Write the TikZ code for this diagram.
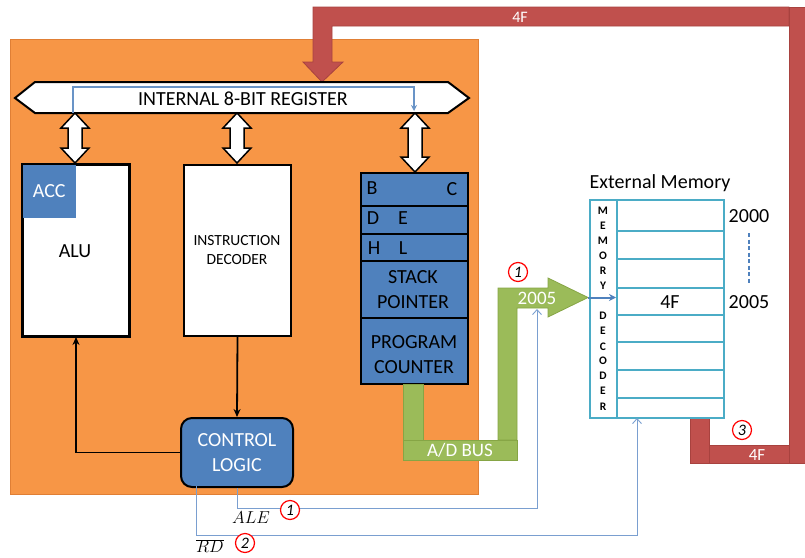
\documentclass[tikz,border=0pt]{standalone}
\usepackage{fontspec}
\setmainfont{Carlito}
\usetikzlibrary{arrows.meta}
\definecolor{orangeF}{HTML}{F79646}
\definecolor{orangeD}{HTML}{E07F35}
\definecolor{blueF}{HTML}{4F81BD}
\definecolor{blueL}{HTML}{7A9FD0}
\definecolor{greenF}{HTML}{9BBB59}
\definecolor{greenD}{HTML}{86A545}
\definecolor{redF}{HTML}{C0504D}
\definecolor{redD}{HTML}{A8423F}
\definecolor{memC}{HTML}{4BACC6}
\begin{document}
\begin{tikzpicture}[x=1pt,y=-1pt,
  font=\fontsize{20}{24}\selectfont,
  whitebox/.style={draw=black, line width=2pt, fill=white, inner sep=0pt, anchor=north west},
  regbox/.style={draw=black, line width=2pt, fill=blueF, inner sep=0pt, anchor=north west, minimum width=107pt},
  greenpart/.style={fill=greenF, draw=greenD, line width=0.8pt},
  redpart/.style={fill=redF, draw=redD, line width=0.8pt},
  memline/.style={draw=memC, line width=1.5pt},
  signal/.style={draw=blueL, line width=0.9pt, -{Straight Barb[length=5pt,width=9pt]}},
  numcirc/.style={circle, draw=red, line width=1.2pt, fill=white, inner sep=0pt, minimum size=19pt, font=\itshape\fontsize{16}{16}\selectfont},
  declet/.style={font=\bfseries\fontsize{11.5}{11.5}\selectfont},
  wlabel/.style={text=white}
]
\useasboundingbox (0,0) rectangle (805,557);

% orange CPU area
\fill[orangeF, draw=orangeD, line width=1pt] (10,39) rectangle (478,494);

% red data path (memory -> register)
\draw[redpart] (313,7) -- (789,7) -- (789,26) -- (332,26) -- (332,62) -- (343,62) -- (322,82) -- (303,62) -- (313,62) -- cycle;
\draw[redpart] (789,7) rectangle (806,463);
\draw[redpart] (709,445) rectangle (789,463);
\draw[redpart] (690,417) rectangle (709,463);
\node[wlabel, font=\fontsize{16}{16}\selectfont] (fourFtop) at (520,17) {4F};
\node[wlabel, font=\fontsize{17}{17}\selectfont] (fourFbot) at (757,455) {4F};

% internal register bus
\draw[fill=white, line width=2pt, line join=miter] (15,98) -- (35,82) -- (448,82) -- (469,98) -- (448,113) -- (35,113) -- cycle;
\node (reg) at (243,99) {INTERNAL 8-BIT REGISTER};
\draw[draw=blueF!85!white, line width=1.5pt, -{Stealth[length=6pt,width=6pt]}] (73,113) -- (73,87) -- (414,87) -- (414,111);

% double arrows
\foreach \x/\a/\b in {75/113/163, 237/113/163, 415/113/172} {
  \draw[fill=white, line width=1.5pt, line join=miter]
    (\x,\a) -- (\x+14,\a+15) -- (\x+7,\a+15) -- (\x+7,\b-15) -- (\x+14,\b-15) -- (\x,\b)
    -- (\x-14,\b-15) -- (\x-7,\b-15) -- (\x-7,\a+15) -- (\x-14,\a+15) -- cycle;
}

% ALU
\node[whitebox, minimum width=106pt, minimum height=171pt] (alu) at (22,164) {};
\node[fill=blueF, anchor=north west, minimum width=54pt, minimum height=54pt, inner sep=0pt, text=white] (acc) at (22,164) {ACC};
\draw[line width=2pt] (alu.north west) rectangle (alu.south east);
\node (alulbl) at (75,251) {ALU};

% Instruction decoder
\node[whitebox, minimum width=107pt, minimum height=171pt] (dec) at (183,164) {};
\node[align=center, font=\fontsize{15.5}{19}\selectfont] (declbl) at (237,250) {INSTRUCTION\\DECODER};

% Control logic
\node[draw=black, line width=2pt, fill=blueF, rounded corners=11pt, anchor=north west, minimum width=112pt, minimum height=69pt, inner sep=0pt, text=white, align=center, font=\fontsize{20}{25}\selectfont] (ctrl) at (180,417) {CONTROL\\LOGIC};

\draw[line width=1.8pt, -{Stealth[length=8pt,width=7pt]}] (dec.south) -- (ctrl.north);
\draw[line width=1.8pt, -{Stealth[length=8pt,width=7pt]}] (ctrl.west) -| (alu.south);

% Register stack
\node[regbox, minimum height=33pt] (bc) at (360,172) {};
\node[regbox, minimum height=28pt] (de) at (360,205) {};
\node[regbox, minimum height=27pt] (hl) at (360,233) {};
\node[regbox, minimum height=57pt] (sp) at (360,260) {};
\node[regbox, minimum height=66pt] (pc) at (360,317) {};
\node (lb) at (372,188) {B};
\node (lc) at (452,189) {C};
\node (ld) at (373,218) {D};
\node (le) at (403,218) {E};
\node (lh) at (374,248) {H};
\node (ll) at (403,248) {L};
\node[align=center, font=\fontsize{20}{25}\selectfont] (splbl) at (413,290) {STACK\\POINTER};
\node[align=center, font=\fontsize{20}{25}\selectfont] (pclbl) at (414,355) {PROGRAM\\COUNTER};

% green address bus
\draw[greenpart] (403,384) rectangle (423,440);
\draw[greenpart] (403,440) rectangle (517,460);
\draw[greenpart] (498,440) -- (498,288) -- (548,288) -- (548,278) -- (588,297.5) -- (548,317) -- (548,308) -- (517,308) -- (517,440) -- cycle;
\node[wlabel, font=\fontsize{19}{19}\selectfont] (adbus) at (460,450) {A/D BUS};
\node[wlabel, font=\fontsize{19}{19}\selectfont] (addr) at (537,298) {2005};

% External memory
\node (extlbl) at (660,183) {External Memory};
\node[draw=memC, line width=1.5pt, fill=white, anchor=north west, minimum width=134pt, minimum height=218pt, inner sep=0pt] (mem) at (589,199) {};
\draw[memline] (617,199) -- (617,417);
\foreach \y in {231,259,288,315,342,370,398} { \draw[memline] (617,\y) -- (723,\y); }
\foreach \l/\y in {M/211,E/226,M/241,O/256,R/271,Y/286,D/316,E/331,C/347,O/361,D/376,E/391,R/407} {
  \node[declet] at (603,\y) {\l};
}
\node (memval) at (670,302) {4F};
\node (a2000) at (749,216) {2000};
\node (a2005) at (749,302) {2005};
\draw[draw=blueF, line width=1.5pt, dash pattern=on 4pt off 2.5pt] (749,233) -- (749,284);
\coordinate (decin) at (616,297.5);
\draw[draw=blueF, line width=2pt, -{Stealth[length=7pt,width=7pt]}] (588,297.5) -- (decin);

% control signals
\coordinate (aleEnd) at (537,309);
\coordinate (rdStart) at (196,486);
\coordinate (rdEnd) at (637,418);
\draw[signal] (ctrl.south) -- ++(0,20) -| (aleEnd);
\draw[signal] (rdStart) -- ++(0,49) -| (rdEnd);
\node[font=\fontsize{19}{19}\selectfont] (ale) at (251,518) {$ALE$};
\node[font=\fontsize{19}{19}\selectfont] (rd) at (210,546) {$\overline{RD}$};

% step numbers
\node[numcirc] (n1a) at (518,272) {1};
\node[numcirc] (n1b) at (290,510) {1};
\node[numcirc] (n2) at (245,543) {2};
\node[numcirc] (n3) at (742,430) {3};
\end{tikzpicture}
\end{document}
